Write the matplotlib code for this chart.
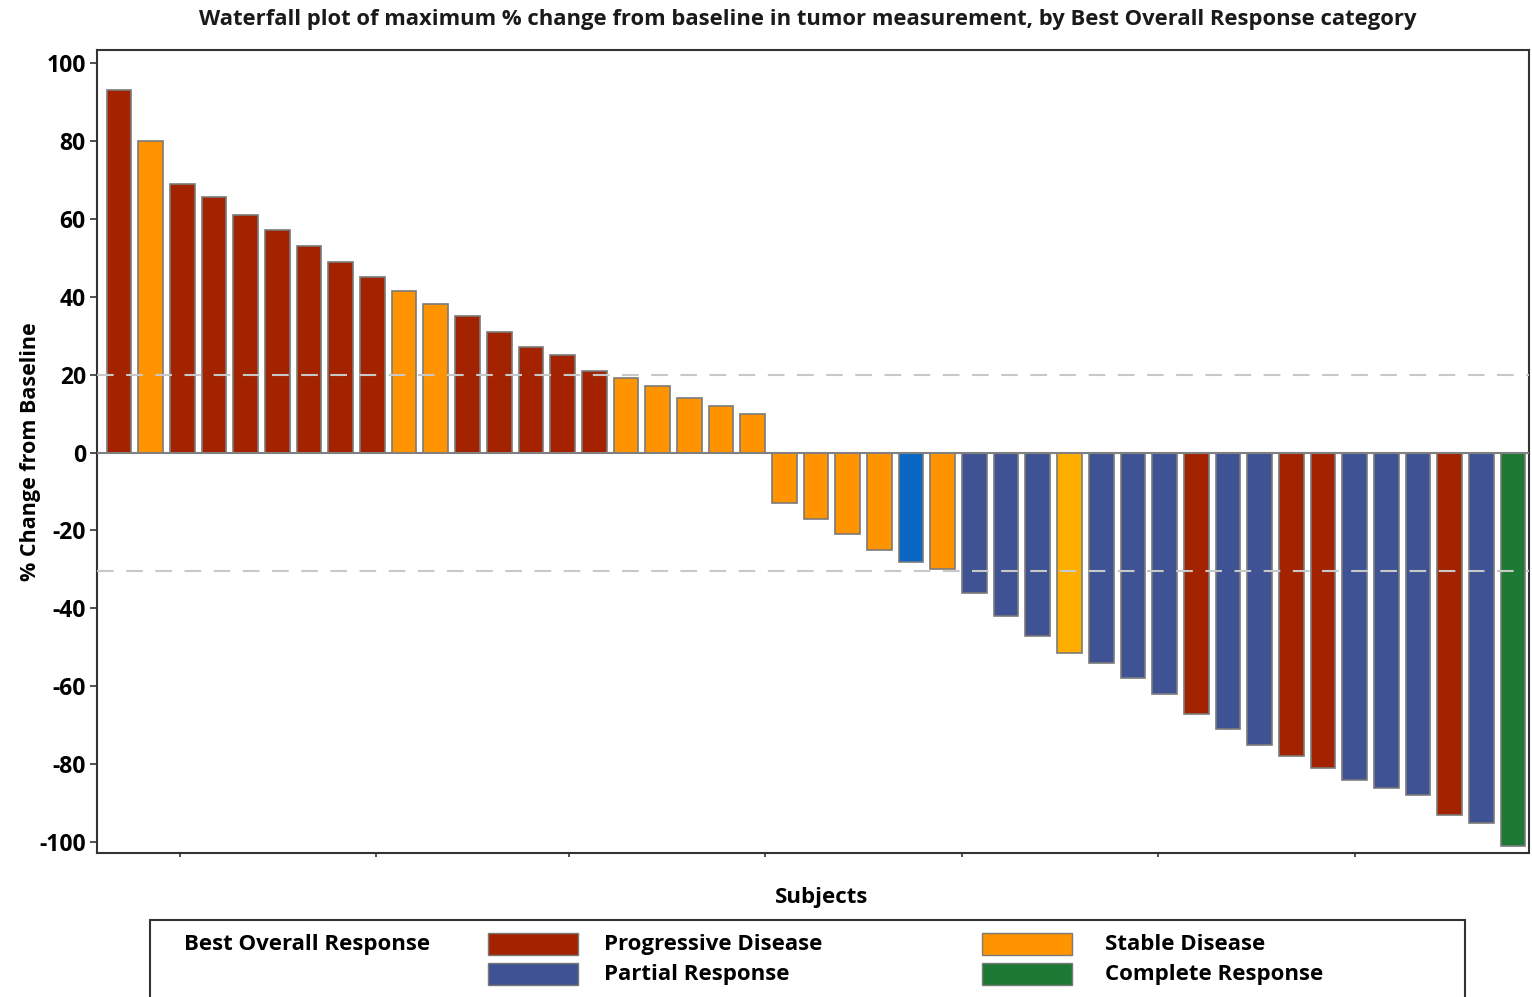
import matplotlib
matplotlib.use("Agg")
import matplotlib.pyplot as plt
from matplotlib.patches import Rectangle

plt.rcParams['font.family'] = ['Open Sans', 'DejaVu Sans']

# Data: maximum % change from baseline per subject (sorted waterfall)
pct_change = [93, 80, 69, 65.5, 61, 57, 53, 49, 45, 41.5, 38, 35, 31, 27, 25, 21,
              19, 17, 14, 12, 10,
              -13, -17, -21, -25, -28, -30, -36, -42, -47, -51.5, -54, -58, -62,
              -67, -71, -75, -78, -81, -84, -86, -88, -93, -95, -101]
response = ['PD', 'SD', 'PD', 'PD', 'PD', 'PD', 'PD', 'PD', 'PD', 'SD', 'SD', 'PD',
            'PD', 'PD', 'PD', 'PD', 'SD', 'SD', 'SD', 'SD', 'SD',
            'SD', 'SD', 'SD', 'SD', 'PR2', 'SD', 'PR', 'PR', 'PR', 'SD2', 'PR', 'PR',
            'PR', 'PD', 'PR', 'PR', 'PD', 'PD', 'PR', 'PR', 'PR', 'PD', 'PR', 'CR']
legend_keys = ['PD', 'PR', 'SD', 'CR']
legend_labels = ['Progressive Disease', 'Partial Response', 'Stable Disease', 'Complete Response']
thresholds = [20, -30.5]
y_ticks = [100, 80, 60, 40, 20, 0, -20, -40, -60, -80, -100]
x_ticks = [2.92, 9.1, 15.2, 21.4, 27.6, 33.8, 40.0]

colors = {'PD': '#A32200', 'SD': '#FF9400', 'PR': '#3F5394', 'CR': '#1C7A35',
          'PR2': '#0A67C3', 'SD2': '#FFAE00'}

fig = plt.figure(figsize=(15.32, 9.97), dpi=100)
ax = fig.add_axes([0.0633, 0.1444, 0.9347, 0.8054])

x = list(range(1, len(pct_change) + 1))
ax.bar(x, pct_change, width=0.78, color=[colors[r] for r in response],
       edgecolor='#7a7a7a', linewidth=1.2, zorder=2)
ax.axhline(0, color='#808080', linewidth=1.5, zorder=3)
for t in thresholds:
    ax.axhline(t, color='#c8c8c8', linewidth=1.5, dashes=(8, 6), zorder=4)

ax.set_xlim(0.306, 45.5)
ax.set_ylim(-102.8, 103.3)
ax.set_yticks(y_ticks)
ax.set_yticklabels([str(v) for v in y_ticks], fontsize=16.5, fontweight='bold')
ax.set_xticks(x_ticks)
ax.set_xticklabels([])
ax.tick_params(axis='y', length=5, width=1.2, color='#333333', pad=3)
ax.tick_params(axis='x', length=3, width=1.2, color='#333333')
for s in ax.spines.values():
    s.set_color('#333333')
    s.set_linewidth(1.5)

ax.set_ylabel('% Change from Baseline', fontsize=15.5, fontweight='bold', labelpad=-1)
fig.text(0.5275, 0.980, 'Waterfall plot of maximum % change from baseline in tumor measurement, by Best Overall Response category',
         ha='center', va='center', fontsize=15.8, fontweight='bold', color='#1a1a1a')
fig.text(0.5365, 0.100, 'Subjects', ha='center', va='center', fontsize=16, fontweight='bold')

# Legend box
W, H = 1532, 997
fig.add_artist(Rectangle((150 / W, -0.01), (1465 - 150) / W, (H - 920) / H + 0.01,
                         transform=fig.transFigure, facecolor='white',
                         edgecolor='#333333', linewidth=1.5))
fig.text(184 / W, 1 - 944 / H, 'Best Overall Response', ha='left', va='center',
         fontsize=16, fontweight='bold')
patch_pos = [(488, 944), (488, 974), (982, 944), (982, 974)]
label_x = [604, 604, 1105, 1105]
for key, lab, (px, py), lx in zip(legend_keys, legend_labels, patch_pos, label_x):
    fig.add_artist(Rectangle((px / W, 1 - (py + 11) / H), 90 / W, 22 / H,
                             transform=fig.transFigure, facecolor=colors[key],
                             edgecolor='#7a7a7a', linewidth=1.0))
    fig.text(lx / W, 1 - py / H, lab, ha='left', va='center',
             fontsize=16, fontweight='bold')

fig.savefig('out.png', dpi=100)
